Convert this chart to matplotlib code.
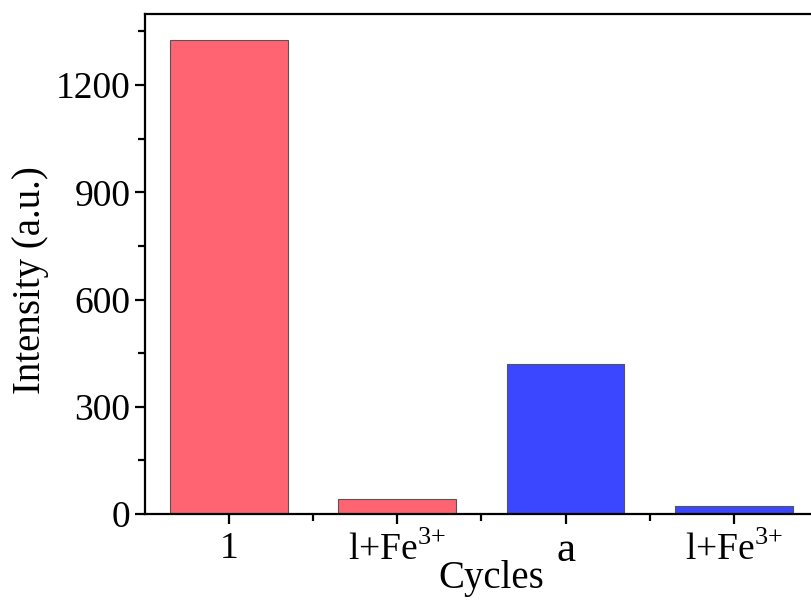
import matplotlib
matplotlib.use("Agg")
import matplotlib.pyplot as plt
from matplotlib.ticker import MultipleLocator, FixedLocator

plt.rcParams['font.family'] = ['Liberation Serif', 'DejaVu Serif']
plt.rcParams['mathtext.fontset'] = 'custom'
plt.rcParams['mathtext.rm'] = 'Liberation Serif'

# Data
positions = [1, 2, 3, 4]
labels = ["1", r"l+Fe$^{3{+}}$", "a", r"l+Fe$^{3{+}}$"]
intensity = [1325, 41, 420, 22]
colors = ["#FF6472", "#FF6472", "#3B47FF", "#3B47FF"]

fig = plt.figure(figsize=(8.11, 6.06), dpi=100)
ax = fig.add_axes([0.1788, 0.1518, 0.8298, 0.8259])

ax.bar(positions, intensity, width=0.70, color=colors,
       edgecolor="#555555", linewidth=0.8)

ax.set_xlim(0.5, 4.5)
ax.set_ylim(0, 1400)
ax.yaxis.set_major_locator(FixedLocator([0, 300, 600, 900, 1200]))
ax.yaxis.set_minor_locator(MultipleLocator(150))
ax.set_xticks(positions)
ax.set_xticklabels(labels)
ax.xaxis.set_minor_locator(FixedLocator([1.5, 2.5, 3.5]))

for s in ax.spines.values():
    s.set_linewidth(1.6)

ax.tick_params(which='major', direction='out', length=7.5, width=1.6,
               labelsize=27, pad=3)
ax.tick_params(axis='x', which='major', pad=5)
ax.tick_params(which='minor', direction='out', length=5, width=1.6)

for t in ax.get_xticklabels():
    if t.get_text() == "a":
        t.set_fontsize(31)

ax.set_ylabel("Intensity (a.u.)", fontsize=28)
ax.yaxis.set_label_coords(-0.143, 0.468)
ax.set_xlabel("Cycles", fontsize=28)
ax.xaxis.set_label_coords(0.514, -0.092)

fig.savefig("out.png", dpi=100)
